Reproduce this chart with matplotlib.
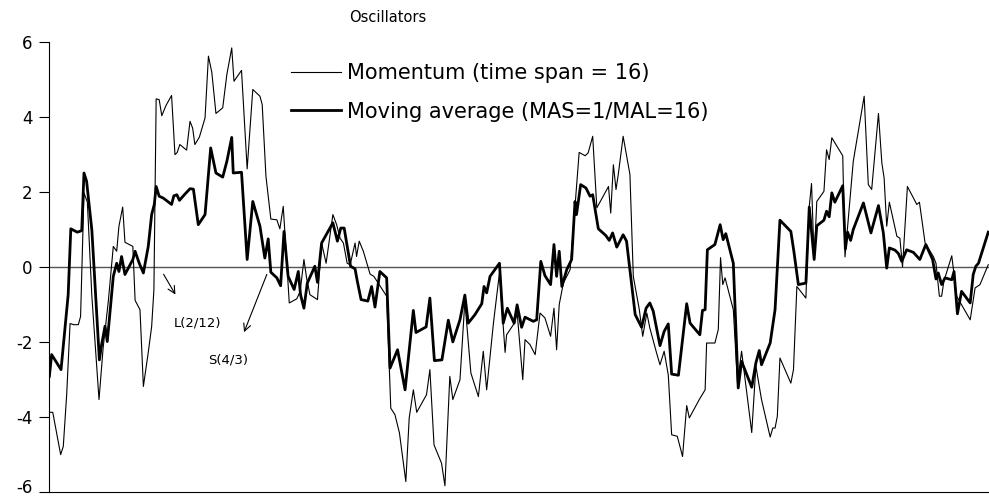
import matplotlib
matplotlib.use("Agg")
import matplotlib.pyplot as plt
import matplotlib.transforms as mtransforms

plt.rcParams.update({'font.family': 'DejaVu Sans', 'font.size': 13,
                     'axes.unicode_minus': False})

# ---- Data (period index, oscillator value) ----
mom_t = [0.1, 1.0, 2.2, 3.1, 3.8, 4.7, 5.6, 6.6, 7.8, 8.4, 9.3, 10.2, 11.4, 13.3, 14.4, 15.8,
         17.1, 18.0, 18.6, 19.6, 20.2, 22.3, 22.9, 24.2, 25.1, 26.4, 27.3, 27.9, 28.5, 29.3,
         30.0, 31.1, 32.6, 33.5, 34.1, 34.8, 36.6, 37.5, 38.2, 38.8, 40.0, 41.5, 42.4, 43.3,
         44.4, 46.2, 47.3, 48.6, 49.2, 51.2, 52.7, 54.2, 56.1, 56.7, 57.7, 59.0, 60.6, 61.4,
         62.3, 63.9, 65.9, 66.8, 67.8, 68.5, 69.4, 71.4, 72.5, 73.7, 75.5, 76.5, 77.4, 78.3,
         79.3, 80.1, 81.4, 81.8, 82.5, 83.6, 85.4, 86.4, 87.8, 89.8, 90.9, 92.0, 93.2, 94.9,
         95.8, 96.9, 97.8, 100.4, 101.3, 102.4, 104.4, 105.3, 106.6, 107.4, 109.3, 110.6,
         112.2, 114.2, 115.5, 116.4, 118.2, 119.8, 121.3, 121.7, 123.9, 124.5, 126.0, 126.6,
         127.9, 129.3, 130.6, 131.9, 133.4, 134.3, 135.0, 135.7, 136.8, 138.6, 139.9, 141.0,
         142.6, 143.4, 144.6, 145.7, 147.4, 148.8, 149.4, 150.1, 150.8, 151.4, 152.7, 154.5,
         155.4, 157.0, 157.9, 159.0, 159.8, 161.6, 162.5, 163.6, 164.7, 165.6, 167.1, 168.5,
         169.6, 170.3, 173.0, 174.5, 174.9, 177.1, 178.0, 178.6, 179.2, 179.8, 182.0, 183.1,
         184.2, 186.9, 188.0, 189.5, 191.8, 192.5, 193.1, 193.7, 194.4, 197.3, 198.0, 198.9,
         201.3, 202.2, 202.8, 203.5, 204.2, 206.1, 206.8, 207.5, 208.2, 211.1, 211.7, 213.9,
         216.8, 217.9, 218.8, 220.6, 221.5, 222.1, 222.8, 223.5, 225.5, 226.3, 227.0, 228.3,
         230.8, 231.5, 233.0, 235.2, 235.9, 236.8, 237.4, 238.0, 240.1, 241.4, 245.0, 246.3,
         247.6, 249.8]
momentum = [-3.88, -3.88, -4.52, -5.01, -4.79, -3.41, -1.51, -1.54, -1.54, -1.32, 1.98, 1.73,
             -0.78, -3.54, -2.16, -0.89, 0.55, 0.42, 1.09, 1.60, 0.66, 0.55, -0.89, -1.14,
             -3.19, -2.28, -1.59, -0.61, 4.49, 4.47, 4.04, 4.31, 4.58, 3.00, 3.06, 3.27, 3.12,
             3.89, 3.71, 3.27, 3.47, 3.98, 5.63, 5.20, 4.10, 4.25, 5.14, 5.85, 4.96, 5.25, 2.62,
             4.74, 4.56, 4.34, 2.42, 1.28, 1.26, 1.02, 1.62, -0.96, -0.85, -0.65, 0.20, -0.29,
             -0.74, -0.87, 0.64, 0.10, 1.40, 1.13, 0.77, 0.64, 0.10, 0.06, 0.64, 0.28, 0.69,
             0.42, -0.19, -0.25, -0.47, -0.78, -3.77, -3.94, -4.43, -5.73, -4.03, -3.28, -3.88,
             -3.41, -2.74, -4.75, -5.24, -5.84, -2.92, -3.54, -3.01, -0.92, -2.83, -3.46, -2.25,
             -3.28, -1.50, -0.16, -2.28, -1.81, -1.48, -1.21, -3.01, -1.94, -2.07, -2.34, -1.23,
             -1.36, -1.85, -1.10, -2.21, -1.00, -0.43, -0.07, 1.62, 3.06, 2.97, 3.05, 3.49, 1.58,
             1.89, 2.15, 1.44, 2.73, 2.07, 2.47, 3.49, 2.47, -0.25, -1.14, -1.85, -1.23, -1.63,
             -2.30, -2.61, -2.25, -2.88, -4.48, -4.52, -5.06, -3.70, -4.03, -3.53, -3.28, -2.03,
             -2.03, -1.67, 0.25, -0.47, -0.29, -1.14, -3.10, -2.25, -4.42, -2.65, -3.54, -4.54,
             -4.30, -4.30, -3.99, -2.43, -3.10, -2.74, -0.52, -0.83, 1.62, 2.23, 0.20, 1.75,
             2.02, 3.13, 2.87, 3.45, 2.97, 0.27, 2.82, 4.56, 2.20, 2.07, 4.10, 2.78, 2.38, 1.09,
             1.73, 0.82, 0.77, 0.00, 2.15, 1.67, 1.73, 0.64, 0.28, 0.10, -0.78, -0.78, -0.38,
             0.30, -0.78, -1.41, -0.56, -0.47, 0.06]

ma_t = [0.1, 0.7, 3.2, 5.1, 5.8, 7.5, 8.7, 9.3, 10.0, 11.4, 13.4, 14.0, 14.9, 15.5, 17.1, 18.0,
        18.6, 19.3, 20.2, 22.3, 22.9, 24.0, 25.1, 26.4, 27.3, 28.0, 28.5, 29.3, 30.4, 32.6,
        33.2, 34.0, 34.7, 36.0, 37.5, 38.4, 39.7, 41.5, 43.0, 44.4, 46.2, 47.3, 48.6, 49.0,
        51.2, 52.7, 54.2, 56.1, 57.4, 58.3, 59.0, 60.6, 61.6, 62.5, 63.6, 65.2, 66.3, 66.9,
        67.8, 68.7, 70.7, 71.4, 72.5, 73.9, 75.5, 76.7, 77.6, 78.5, 80.2, 81.4, 82.0, 83.0,
        84.8, 85.8, 86.7, 88.0, 89.8, 90.7, 92.7, 94.7, 96.9, 97.6, 100.3, 101.3, 102.5,
        104.5, 106.2, 107.4, 109.3, 110.6, 111.5, 113.3, 115.1, 115.7, 116.4, 117.3, 119.8,
        120.8, 121.9, 123.7, 124.5, 125.7, 126.6, 128.8, 129.7, 130.8, 131.9, 133.4, 134.3,
        135.0, 135.7, 136.4, 137.7, 139.0, 139.9, 140.3, 141.4, 142.8, 143.9, 144.6, 146.1,
        148.1, 149.0, 149.9, 151.0, 152.7, 153.6, 155.9, 157.6, 158.8, 159.8, 160.7, 162.5,
        163.6, 164.7, 165.6, 167.4, 169.6, 170.5, 173.1, 173.8, 174.5, 175.1, 177.1, 178.5,
        179.3, 180.0, 182.0, 183.3, 184.2, 186.9, 188.0, 188.9, 189.5, 191.8, 193.1, 194.4,
        197.3, 198.1, 199.3, 201.3, 202.2, 203.5, 204.2, 206.1, 206.8, 207.5, 208.2, 209.0,
        211.1, 211.8, 212.4, 213.2, 213.9, 216.6, 218.6, 220.6, 221.9, 222.8, 223.5, 225.0,
        225.9, 226.8, 228.1, 229.9, 231.6, 233.2, 235.0, 235.9, 236.5, 237.4, 238.3, 240.1,
        240.7, 241.6, 242.7, 245.0, 245.8, 246.5, 247.2, 249.8]
moving_avg = [-2.92, -2.34, -2.74, -0.74, 1.02, 0.93, 0.97, 2.51, 2.29, 0.98, -2.48, -2.07,
              -1.58, -1.99, -0.25, 0.10, -0.12, 0.28, -0.20, 0.20, 0.42, 0.10, -0.16, 0.55,
              1.40, 1.67, 2.15, 1.89, 1.84, 1.67, 1.90, 1.93, 1.78, 1.93, 2.09, 2.08, 1.13,
              1.40, 3.18, 2.51, 2.40, 2.82, 3.46, 2.51, 2.53, 0.20, 1.75, 1.09, 0.24, 0.75,
              -0.14, -0.29, -0.50, 0.95, -0.25, -0.60, -0.12, -0.74, -1.10, -0.43, 0.02, -0.41,
              0.64, 0.89, 1.18, 0.69, 1.04, 1.04, 0.02, -0.05, -0.38, -0.87, -0.91, -0.52, -1.07,
              -0.12, -0.29, -2.70, -2.21, -3.28, -1.16, -1.75, -1.60, -0.83, -2.50, -2.48, -1.42,
              -2.00, -1.41, -0.75, -1.50, -1.27, -0.98, -0.52, -0.69, -0.25, 0.10, -1.50, -1.10,
              -1.50, -1.01, -1.61, -1.34, -1.45, -1.41, 0.15, -0.23, -0.47, 0.60, -0.25, 0.42,
              -0.52, -0.07, 0.20, 1.75, 1.40, 2.20, 2.11, 1.89, 1.93, 1.02, 0.84, 0.71, 0.91,
              0.53, 0.86, 0.69, -1.27, -1.61, -1.10, -0.96, -1.18, -2.10, -1.72, -1.52, -2.86,
              -2.89, -0.98, -1.50, -1.81, -1.16, -1.14, 0.46, 0.60, 1.13, 0.73, 0.89, 0.10,
              -3.23, -2.52, -3.21, -2.56, -2.23, -2.61, -2.03, -1.14, 1.25, 0.95, 0.42, -0.47,
              -0.43, 1.60, 0.20, 1.10, 1.25, 1.49, 1.34, 1.98, 1.73, 2.17, 0.48, 0.93, 0.71,
              1.00, 1.71, 0.91, 1.64, 0.91, -0.03, 0.51, 0.45, 0.36, 0.15, 0.46, 0.39, 0.20,
              0.60, 0.20, -0.32, -0.16, -0.47, -0.29, -0.34, -0.12, -1.25, -0.65, -0.96, -0.20,
              0.02, 0.10, 0.93]

y_ticks = [-6, -4, -2, 0, 2, 4, 6]

fig = plt.figure(figsize=(9.89, 5.0), dpi=100)
ax = fig.add_axes([49 / 989, 8.3 / 500, 940 / 989, 449.4 / 500])

ax.axhline(0, color='#555555', lw=1.0, zorder=1)
ax.plot(mom_t, momentum, color='black', lw=0.8, label='Momentum (time span = 16)', zorder=2)
ax.plot(ma_t, moving_avg, color='black', lw=2.0, label='Moving average (MAS=1/MAL=16)', zorder=3)

ax.set_xlim(0, 250)
ax.set_ylim(-6, 6)
ax.set_yticks(y_ticks)
ax.set_xticks([])
ax.tick_params(axis='y', direction='out', length=7, width=0.8, labelsize=12, pad=5)
for side in ('top', 'right'):
    ax.spines[side].set_visible(False)
ax.spines['left'].set_linewidth(0.8)
ax.spines['bottom'].set_linewidth(0.8)

# the bottom label sits on the figure edge; nudge it up a little so it stays whole
bottom_lbl = ax.get_yticklabels()[0]
bottom_lbl.set_transform(bottom_lbl.get_transform() +
                         mtransforms.ScaledTranslation(0, 4 / 72, fig.dpi_scale_trans))

# signal arrows and labels
ax.annotate('', xy=(34.0, -0.80), xytext=(30.1, -0.13),
            arrowprops=dict(arrowstyle='->', lw=0.8, color='black'))
ax.annotate('', xy=(51.6, -1.81), xytext=(58.2, -0.13),
            arrowprops=dict(arrowstyle='->', lw=0.8, color='black'))
ax.text(39.6, -1.49, 'L(2/12)', fontsize=9.5, ha='center', va='center')
ax.text(47.6, -2.47, 'S(4/3)', fontsize=9.5, ha='center', va='center')

fig.text(388 / 989, 1 - 18 / 500, 'Oscillators', fontsize=10.5, ha='center', va='center')

ax.legend(loc='upper left', bbox_to_anchor=(291 / 989, 1 - 63 / 500),
          bbox_transform=fig.transFigure, frameon=False, fontsize=15,
          handlelength=2.4, handletextpad=0.3, labelspacing=0.9,
          borderpad=0, borderaxespad=0)

fig.savefig('out.png', dpi=100)
